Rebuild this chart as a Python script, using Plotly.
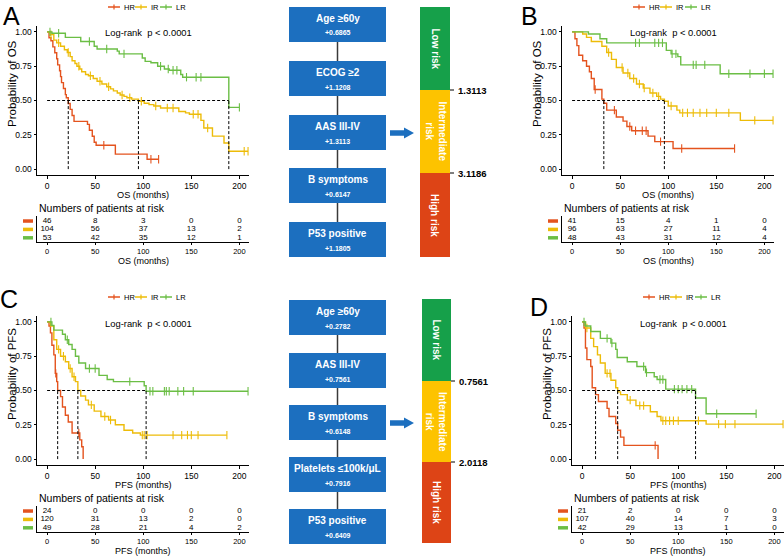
import plotly.graph_objects as go

W, H = 784, 556
def X(px): return px / W
def Y(py): return 1 - py / H

FONT = 'Liberation Sans, Arial, sans-serif'
COLORS = {'HR': '#E4531E', 'IR': '#EDBC08', 'LR': '#6BBE45'}
GROUPS = ['HR', 'IR', 'LR']
X_TICKS = [0, 50, 100, 150, 200]
Y_TICKS = [0, 0.25, 0.5, 0.75, 1.0]
Y_TICK_TEXT = ['0.00', '0.25', '0.50', '0.75', '1.00']

# ---------------- Panel A: OS ----------------
A_HR_t = [0, 2, 4, 6, 8, 10, 11, 13, 14, 15, 17, 19, 20, 22, 24, 26, 28, 42, 44, 47, 49, 51, 71, 104]
A_HR_s = [1, .957, .935, .891, .848, .804, .76, .717, .674, .63, .587, .543, .52, .478, .435, .391, .348, .326, .283, .239, .196, .174, .109, .072]
A_HR_c = [59, 108, 116]
A_IR_t = [0, 3, 7, 10, 14, 18, 21, 24, 26, 29, 31, 34, 36, 40, 43, 48, 52, 57, 62, 66, 69, 73, 76, 80, 83, 88, 95, 101, 106, 111, 118, 137, 144, 148, 160, 163, 172, 184, 189]
A_IR_s = [1, .98, .94, .92, .895, .87, .85, .82, .79, .77, .75, .73, .71, .69, .68, .66, .64, .62, .60, .585, .57, .555, .54, .53, .52, .51, .495, .48, .47, .46, .445, .42, .41, .40, .355, .30, .24, .19, .13]
A_IR_c = [4, 12, 22, 33, 45, 55, 64, 78, 86, 98, 113, 125, 131, 152, 157, 167, 205, 209]
A_LR_t = [0, 5, 19, 35, 49, 52, 73, 75, 99, 102, 108, 115, 122, 127, 139, 141, 189]
A_LR_s = [1, .99, .96, .93, .895, .875, .86, .84, .81, .785, .775, .75, .73, .72, .69, .67, .45]
A_LR_c = [3, 12, 44, 62, 80, 118, 126, 131, 135, 145, 155, 160, 200]
A_risk_HR = [46, 8, 3, 0, 0]
A_risk_IR = [104, 56, 37, 13, 2]
A_risk_LR = [53, 42, 35, 12, 1]

# ---------------- Panel B: OS ----------------
B_HR_t = [0, 3, 5, 7, 11, 15, 18, 20, 23, 31, 33, 36, 46, 53, 57, 62, 79, 86, 105]
B_HR_s = [1, .95, .90, .83, .79, .75, .71, .66, .58, .51, .48, .43, .38, .35, .31, .28, .24, .20, .15]
B_HR_c = [24, 44, 60, 66, 73, 77, 92, 114, 169]
B_IR_t = [0, 11, 15, 20, 31, 36, 41, 46, 53, 60, 67, 74, 81, 88, 92, 96, 100, 109, 112, 175]
B_IR_s = [1, .985, .96, .93, .895, .85, .80, .74, .70, .66, .62, .59, .555, .53, .51, .495, .46, .43, .41, .355]
B_IR_c = [38, 52, 58, 64, 70, 75, 84, 90, 103, 115, 120, 126, 133, 140, 150, 163, 190, 209]
B_LR_t = [0, 17, 29, 36, 98, 103, 110, 113, 154]
B_LR_s = [1, .985, .95, .92, .865, .84, .82, .76, .695]
B_LR_c = [66, 70, 86, 90, 94, 104, 108, 126, 129, 138, 163, 185, 200, 209]
B_risk_HR = [41, 15, 4, 1, 0]
B_risk_IR = [96, 63, 27, 11, 4]
B_risk_LR = [48, 43, 31, 12, 4]

# ---------------- Panel C: PFS ----------------
C_HR_t = [0, 2, 3.5, 5, 7, 8.5, 10, 11, 14, 16, 19, 22, 26, 34, 36, 37.5]
C_HR_s = [1, .97, .92, .83, .76, .625, .565, .50, .455, .38, .32, .27, .19, .14, .09, 0]
C_HR_c = [9, 33]
C_IR_t = [0, 3.5, 7, 10, 14, 19, 22.5, 26, 29.5, 32, 35, 40, 43, 49, 56, 64, 71, 80, 89, 97]
C_IR_s = [1, .97, .87, .80, .75, .71, .66, .60, .565, .50, .46, .43, .395, .35, .31, .285, .25, .21, .19, .175]
C_IR_c = [12, 17, 24, 28, 46, 60, 66, 99, 101, 104, 131, 140, 146, 150, 157, 187]
C_LR_t = [0, 5, 7, 16, 19, 22.5, 26, 29.5, 33, 40, 54, 62.5, 69, 101, 103]
C_LR_s = [1, .975, .94, .91, .87, .835, .80, .75, .70, .66, .61, .58, .565, .535, .495]
C_LR_c = [4, 21, 44, 50, 86, 107, 110, 122, 124, 127, 136, 142, 152, 209]
C_risk_HR = [24, 0, 0, 0, 0]
C_risk_IR = [120, 31, 13, 2, 0]
C_risk_LR = [49, 28, 21, 4, 2]

# ---------------- Panel D: PFS ----------------
D_HR_t = [0, 2, 3.5, 5, 9, 10.5, 14, 17, 26, 28, 35, 37, 40, 43.5, 79]
D_HR_s = [1, .955, .81, .725, .675, .52, .47, .42, .37, .31, .26, .21, .16, .10, 0]
D_HR_c = [76]
D_IR_t = [0, 3.5, 9, 12, 16, 19, 24, 30, 35, 37, 40, 47, 56, 71, 78, 82, 129]
D_IR_s = [1, .955, .88, .82, .76, .70, .625, .575, .52, .49, .47, .43, .39, .345, .31, .28, .255]
D_IR_c = [5, 26, 29, 50, 60, 64, 84, 87, 91, 95, 100, 121, 142, 149, 159, 209]
D_LR_t = [0, 3.5, 9, 19, 30, 35, 36.5, 47, 57, 66, 75, 78, 87, 118, 129]
D_LR_s = [1, .97, .93, .88, .845, .80, .74, .71, .675, .63, .60, .58, .51, .445, .33]
D_LR_c = [2, 26, 31, 64, 67, 81, 84, 96, 100, 104, 109, 114, 140, 181]
D_risk_HR = [21, 2, 0, 0, 0]
D_risk_IR = [107, 40, 14, 7, 3]
D_risk_LR = [42, 29, 13, 1, 0]

# ---------------- Flowcharts ----------------
flow_A_labels = ['Age ≥60y', 'ECOG ≥2', 'AAS III-IV', 'B symptoms', 'P53 positive']
flow_A_points = ['+0.6865', '+1.1208', '+1.3113', '+0.6147', '+1.1805']
flow_C_labels = ['Age ≥60y', 'AAS III-IV', 'B symptoms', 'Platelets ≤100k/μL', 'P53 positive']
flow_C_points = ['+0.2782', '+0.7561', '+0.6148', '+0.7916', '+0.6409']
risk_labels = ['Low risk', 'Intermediate<br>risk', 'High risk']
cut_A = ['1.3113', '3.1186']
cut_C = ['0.7561', '2.0118']
RISK_COLORS = ['#16A04A', '#FDC300', '#DD4416']
BOX_COLOR = '#1C6FBF'

panels = [
    dict(letter='A', metric='OS', dx=0, dy=0, letter_xy=(11, 0),
         curves={'HR': (A_HR_t, A_HR_s, A_HR_c), 'IR': (A_IR_t, A_IR_s, A_IR_c), 'LR': (A_LR_t, A_LR_s, A_LR_c)},
         risk={'HR': A_risk_HR, 'IR': A_risk_IR, 'LR': A_risk_LR}),
    dict(letter='B', metric='OS', dx=525, dy=0, letter_xy=(529, 0),
         curves={'HR': (B_HR_t, B_HR_s, B_HR_c), 'IR': (B_IR_t, B_IR_s, B_IR_c), 'LR': (B_LR_t, B_LR_s, B_LR_c)},
         risk={'HR': B_risk_HR, 'IR': B_risk_IR, 'LR': B_risk_LR}),
    dict(letter='C', metric='PFS', dx=0, dy=290, letter_xy=(9, 283),
         curves={'HR': (C_HR_t, C_HR_s, C_HR_c), 'IR': (C_IR_t, C_IR_s, C_IR_c), 'LR': (C_LR_t, C_LR_s, C_LR_c)},
         risk={'HR': C_risk_HR, 'IR': C_risk_IR, 'LR': C_risk_LR}),
    dict(letter='D', metric='PFS', dx=535, dy=290, letter_xy=(539, 291),
         curves={'HR': (D_HR_t, D_HR_s, D_HR_c), 'IR': (D_IR_t, D_IR_s, D_IR_c), 'LR': (D_LR_t, D_LR_s, D_LR_c)},
         risk={'HR': D_risk_HR, 'IR': D_risk_IR, 'LR': D_risk_LR}),
]

fig = go.Figure()
layout = {}
shapes = []
annotations = []


def ann(text, x, y, size, color='black', bold=False, xanchor='center', yanchor='middle', angle=0):
    if bold:
        text = '<b>' + text + '</b>'
    annotations.append(dict(text=text, x=X(x), y=Y(y), xref='paper', yref='paper',
                            xanchor=xanchor, yanchor=yanchor, showarrow=False, textangle=angle,
                            font=dict(size=size, color=color, family=FONT)))


def line_px(x0, y0, x1, y1, color, width, dash=None):
    d = dict(type='line', xref='paper', yref='paper', x0=X(x0), y0=Y(y0), x1=X(x1), y1=Y(y1),
             line=dict(color=color, width=width))
    if dash:
        d['line']['dash'] = dash
    shapes.append(d)


def step_value(ts, ss, tt):
    v = ss[0]
    for a, b in zip(ts, ss):
        if a <= tt:
            v = b
    return v


def axname(n):
    return ('xaxis' if n == 1 else 'xaxis%d' % n), ('yaxis' if n == 1 else 'yaxis%d' % n)


def axref(n):
    return ('x' if n == 1 else 'x%d' % n), ('y' if n == 1 else 'y%d' % n)


XRANGE = [-10.5, 210]
for i, p in enumerate(panels):
    dx, dy = p['dx'], p['dy']
    k, t = 2 * i + 1, 2 * i + 2
    kx, ky = axname(k)
    tx, ty = axname(t)
    krx, kry = axref(k)
    trx, try_ = axref(t)
    x0, x1 = 37 + dx, 249 + dx
    # KM axes
    layout[kx] = dict(domain=[X(x0), X(x1)], range=XRANGE, anchor=kry, showline=True, linecolor='black',
                      linewidth=1, ticks='outside', ticklen=2.5, tickwidth=1, tickcolor='black',
                      tickvals=X_TICKS, showgrid=False, zeroline=False,
                      tickfont=dict(size=8.5, color='black', family=FONT))
    layout[ky] = dict(domain=[Y(175 + dy), Y(26 + dy)], range=[-0.043, 1.043], anchor=krx, showline=True,
                      linecolor='black', linewidth=1, ticks='outside', ticklen=2.5, tickwidth=1,
                      tickcolor='black', tickvals=Y_TICKS, ticktext=Y_TICK_TEXT, showgrid=False,
                      zeroline=False, tickfont=dict(size=8.5, color='black', family=FONT))
    # risk table axes
    layout[tx] = dict(domain=[X(x0), X(x1)], range=XRANGE, anchor=try_, showline=True, linecolor='black',
                      linewidth=1, ticks='outside', ticklen=2, tickwidth=1, tickcolor='black',
                      tickvals=X_TICKS, showgrid=False, zeroline=False,
                      tickfont=dict(size=7.5, color='black', family=FONT))
    layout[ty] = dict(domain=[Y(242 + dy), Y(216 + dy)], range=[0.5, 3.6], anchor=trx, showline=True,
                      linecolor='black', linewidth=1, ticks='', showticklabels=False, showgrid=False,
                      zeroline=False)

    meds = []
    for g in GROUPS:
        ts, ss, cs = p['curves'][g]
        end = max([ts[-1]] + list(cs))
        fig.add_trace(go.Scatter(x=list(ts) + [end], y=list(ss) + [ss[-1]], mode='lines',
                                 line=dict(color=COLORS[g], width=1.4, shape='hv'),
                                 xaxis=krx, yaxis=kry, showlegend=False, hoverinfo='skip'))
        fig.add_trace(go.Scatter(x=cs, y=[step_value(ts, ss, c) for c in cs], mode='markers',
                                 marker=dict(symbol='line-ns-open', size=6, color=COLORS[g],
                                             line=dict(width=1.1, color=COLORS[g])),
                                 xaxis=krx, yaxis=kry, showlegend=False, hoverinfo='skip'))
        for a, b in zip(ts, ss):
            if b <= 0.5:
                meds.append(a)
                break
    dash = dict(color='black', width=1, dash='3px,2px')
    if meds:
        fig.add_trace(go.Scatter(x=[0, max(meds)], y=[0.5, 0.5], mode='lines', line=dash,
                                 xaxis=krx, yaxis=kry, showlegend=False, hoverinfo='skip'))
        for m in meds:
            fig.add_trace(go.Scatter(x=[m, m], y=[0, 0.5], mode='lines', line=dash,
                                     xaxis=krx, yaxis=kry, showlegend=False, hoverinfo='skip'))

    # risk table numbers and swatches
    for j, g in enumerate(GROUPS):
        row = 3 - j
        fig.add_trace(go.Scatter(x=X_TICKS, y=[row] * len(X_TICKS), mode='text',
                                 text=[str(v) for v in p['risk'][g]],
                                 textfont=dict(size=8, color='black', family=FONT),
                                 xaxis=trx, yaxis=try_, showlegend=False, hoverinfo='skip'))
        shapes.append(dict(type='line', xref='paper', yref=try_, x0=X(x0 - 14), x1=X(x0 - 4),
                           y0=row, y1=row, line=dict(color=COLORS[g], width=3.5)))

    # texts
    metric = p['metric']
    ann(p['letter'], p['letter_xy'][0], p['letter_xy'][1], 25, yanchor='top')
    ann('Log-rank  p < 0.0001', 148 + dx, 33 + dy, 9.4)
    ann('Probability of ' + metric, 12 + dx, 84 + dy, 11.5, angle=-90)
    ann(metric + ' (months)', 143 + dx, 195 + dy, 9.2)
    ann('Numbers of patients at risk', 37 + dx, 208 + dy, 10.5, xanchor='left')
    ann(metric + ' (months)', 143 + dx, 260.5 + dy, 9)

    # manual legend
    L = 108 + dx
    ly = 7 + dy
    for off, g in zip([0, 27, 52], GROUPS):
        line_px(L + off, ly, L + off + 12, ly, COLORS[g], 1.5)
        line_px(L + off + 6, ly - 2.5, L + off + 6, ly + 2.5, COLORS[g], 1.2)
        ann(g, L + off + 14, ly, 7.5, xanchor='left')


# ---------------- flowcharts and risk bars ----------------
def flow(labels, points, tops, bar_x, bar_edges, cuts, arrow_y):
    bx0, bx1 = 289, 386
    cx = (bx0 + bx1) / 2
    for j in range(len(labels) - 1):
        line_px(cx, tops[j] + 35, cx, tops[j + 1], '#3a3a3a', 1.5)
    for lab, pt, tp in zip(labels, points, tops):
        shapes.append(dict(type='rect', xref='paper', yref='paper', x0=X(bx0), x1=X(bx1),
                           y0=Y(tp + 35), y1=Y(tp), fillcolor=BOX_COLOR, line=dict(width=0)))
        ann(lab, cx, tp + 11.5, 10, color='white', bold=True)
        ann(pt, cx, tp + 26, 7, color='white', bold=True)
    # arrow
    ax0, ax1, ah = 390, 414, 404
    path = 'M %f %f L %f %f L %f %f L %f %f L %f %f L %f %f L %f %f Z' % (
        X(ax0), Y(arrow_y - 2.7), X(ah), Y(arrow_y - 2.7), X(ah), Y(arrow_y - 5.5), X(ax1), Y(arrow_y),
        X(ah), Y(arrow_y + 5.5), X(ah), Y(arrow_y + 2.7), X(ax0), Y(arrow_y + 2.7))
    shapes.append(dict(type='path', xref='paper', yref='paper', path=path, fillcolor=BOX_COLOR,
                       line=dict(width=0)))
    # risk bar
    for j in range(3):
        shapes.append(dict(type='rect', xref='paper', yref='paper', x0=X(bar_x[0]), x1=X(bar_x[1]),
                           y0=Y(bar_edges[j + 1]), y1=Y(bar_edges[j]), fillcolor=RISK_COLORS[j],
                           line=dict(width=0)))
        ann(risk_labels[j], (bar_x[0] + bar_x[1]) / 2, (bar_edges[j] + bar_edges[j + 1]) / 2, 10,
            color='white', bold=True, angle=90)
    for j, c in enumerate(cuts):
        yy = bar_edges[j + 1]
        line_px(bar_x[1], yy, bar_x[1] + 4, yy, 'black', 1)
        ann(c, bar_x[1] + 6, yy, 9.5, bold=True, xanchor='left')


flow(flow_A_labels, flow_A_points, [7, 61, 115, 168, 222], (420, 450), [7, 90, 173, 257], cut_A, 133)
flow(flow_C_labels, flow_C_points, [300, 353, 405, 457, 509], (422, 451), [299, 381, 462, 543], cut_C, 423)

fig.update_layout(width=W, height=H, margin=dict(l=0, r=0, t=0, b=0), paper_bgcolor='white',
                  plot_bgcolor='white', showlegend=False, shapes=shapes, annotations=annotations,
                  font=dict(family=FONT, color='black'), **layout)
fig.write_html("out.html", config={'displayModeBar': False},
               post_script="document.body.style.margin='0';")
